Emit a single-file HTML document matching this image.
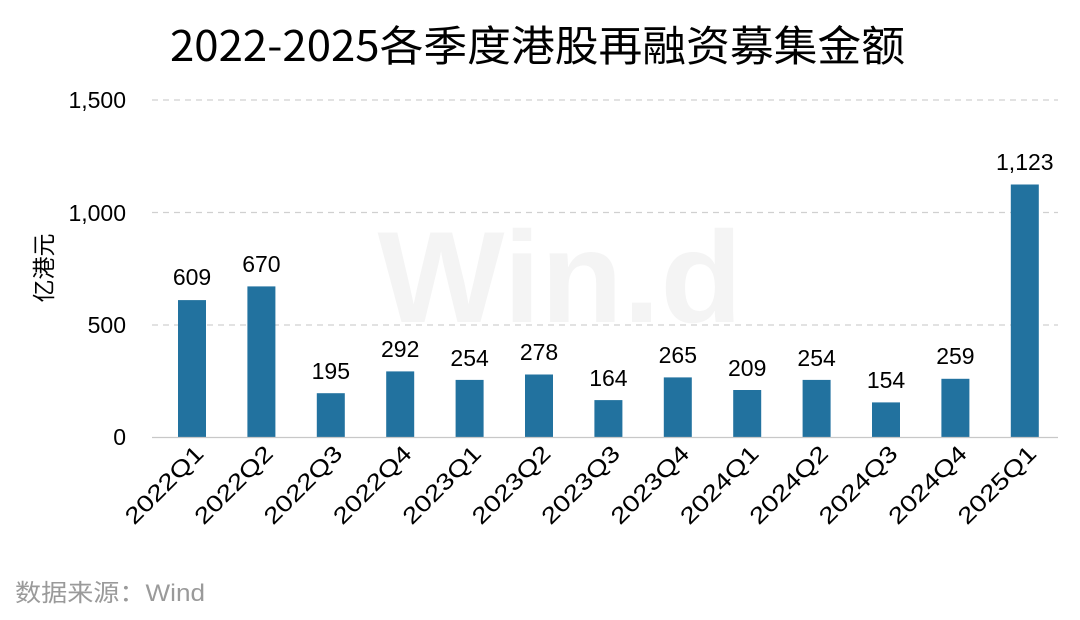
<!DOCTYPE html>
<html><head><meta charset="utf-8"><style>
html,body{margin:0;padding:0;background:#fff;}
svg{display:block;}
</style></head><body>
<svg width="1080" height="620" viewBox="0 0 1080 620" xmlns="http://www.w3.org/2000/svg">
<rect width="1080" height="620" fill="#fff"/>
<text x="170" y="61" font-family="'Noto Sans CJK SC','WenQuanYi Zen Hei',sans-serif" font-size="42" fill="#000" textLength="735" lengthAdjust="spacingAndGlyphs">2022-2025各季度港股再融资募集金额</text>
<text x="560" y="322" text-anchor="middle" font-family="'Liberation Sans',sans-serif" font-weight="bold" font-size="130" fill="#f4f4f4" textLength="365" lengthAdjust="spacingAndGlyphs">Win.d</text>
<g stroke="#d0d0d0" stroke-width="1.3" stroke-dasharray="6,5">
<line x1="152" y1="100" x2="1058" y2="100"/>
<line x1="152" y1="212.5" x2="1058" y2="212.5"/>
<line x1="152" y1="325" x2="1058" y2="325"/>
</g>
<g font-family="'Liberation Sans',sans-serif" font-size="23" fill="#000" text-anchor="end">
<text x="126" y="108">1,500</text>
<text x="126" y="221">1,000</text>
<text x="126" y="333">500</text>
<text x="126" y="445">0</text>
</g>
<text transform="translate(52,268) rotate(-90)" text-anchor="middle" font-family="'Noto Sans CJK SC',sans-serif" font-size="23" fill="#000">亿港元</text>
<g fill="#22729f">
<rect x="178" y="300.1" width="28" height="136.9"/>
<rect x="247.4" y="286.4" width="28" height="150.6"/>
<rect x="316.8" y="393.2" width="28" height="43.8"/>
<rect x="386.2" y="371.4" width="28" height="65.6"/>
<rect x="455.6" y="379.9" width="28" height="57.1"/>
<rect x="525" y="374.5" width="28" height="62.5"/>
<rect x="594.4" y="400.1" width="28" height="36.9"/>
<rect x="663.8" y="377.4" width="28" height="59.6"/>
<rect x="733.2" y="390" width="28" height="47"/>
<rect x="802.6" y="379.9" width="28" height="57.1"/>
<rect x="872" y="402.4" width="28" height="34.6"/>
<rect x="941.4" y="378.8" width="28" height="58.2"/>
<rect x="1010.8" y="184.5" width="28" height="252.5"/>
</g>
<line x1="152" y1="437.5" x2="1058" y2="437.5" stroke="#c8c8c8" stroke-width="1.3"/>
<g font-family="'Liberation Sans',sans-serif" font-size="23" fill="#000" text-anchor="middle">
<text x="192" y="285">609</text>
<text x="261.4" y="272">670</text>
<text x="330.8" y="379">195</text>
<text x="400.2" y="357">292</text>
<text x="469.6" y="366">254</text>
<text x="539" y="360">278</text>
<text x="608.4" y="386">164</text>
<text x="677.8" y="363">265</text>
<text x="747.2" y="376">209</text>
<text x="816.6" y="366">254</text>
<text x="886" y="388">154</text>
<text x="955.4" y="364">259</text>
<text x="1024.8" y="170">1,123</text>
</g>
<g font-family="'Liberation Sans',sans-serif" font-size="23" fill="#000" text-anchor="end">
<text transform="translate(205,455) rotate(-45)" textLength="100" lengthAdjust="spacingAndGlyphs">2022Q1</text>
<text transform="translate(274.4,455) rotate(-45)" textLength="100" lengthAdjust="spacingAndGlyphs">2022Q2</text>
<text transform="translate(343.8,455) rotate(-45)" textLength="100" lengthAdjust="spacingAndGlyphs">2022Q3</text>
<text transform="translate(413.2,455) rotate(-45)" textLength="100" lengthAdjust="spacingAndGlyphs">2022Q4</text>
<text transform="translate(482.6,455) rotate(-45)" textLength="100" lengthAdjust="spacingAndGlyphs">2023Q1</text>
<text transform="translate(552,455) rotate(-45)" textLength="100" lengthAdjust="spacingAndGlyphs">2023Q2</text>
<text transform="translate(621.4,455) rotate(-45)" textLength="100" lengthAdjust="spacingAndGlyphs">2023Q3</text>
<text transform="translate(690.8,455) rotate(-45)" textLength="100" lengthAdjust="spacingAndGlyphs">2023Q4</text>
<text transform="translate(760.2,455) rotate(-45)" textLength="100" lengthAdjust="spacingAndGlyphs">2024Q1</text>
<text transform="translate(829.6,455) rotate(-45)" textLength="100" lengthAdjust="spacingAndGlyphs">2024Q2</text>
<text transform="translate(899,455) rotate(-45)" textLength="100" lengthAdjust="spacingAndGlyphs">2024Q3</text>
<text transform="translate(968.4,455) rotate(-45)" textLength="100" lengthAdjust="spacingAndGlyphs">2024Q4</text>
<text transform="translate(1037.8,455) rotate(-45)" textLength="100" lengthAdjust="spacingAndGlyphs">2025Q1</text>
</g>
<text x="15" y="601" font-family="'Liberation Sans','Noto Sans CJK SC',sans-serif" font-size="24" fill="#9a9a9a" textLength="190" lengthAdjust="spacingAndGlyphs">数据来源：Wind</text>
</svg>
</body></html>
